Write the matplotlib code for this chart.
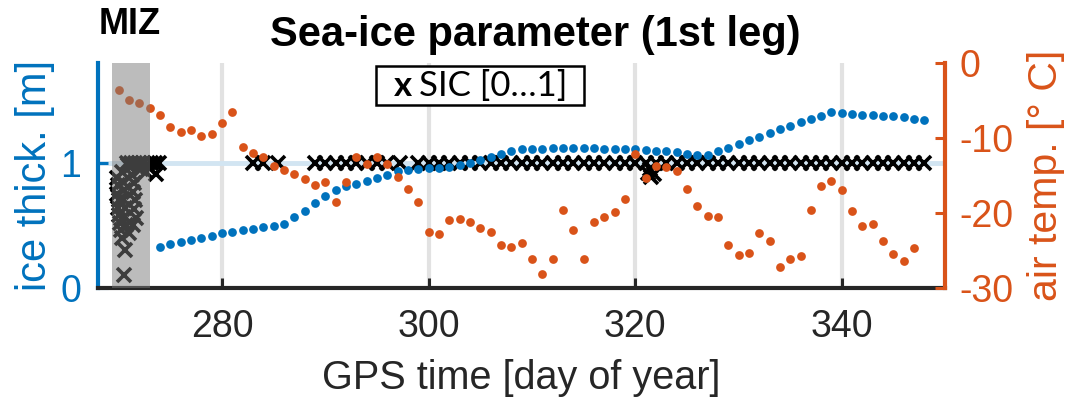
import numpy as np
import matplotlib
matplotlib.use('Agg')
import matplotlib.pyplot as plt
from matplotlib.patches import Rectangle

plt.rcParams['font.family'] = ['Liberation Sans', 'DejaVu Sans']
plt.rcParams['axes.unicode_minus'] = False

BLUE = '#0072BD'
ORANGE = '#D95319'
DARK = '#262626'

# ice thickness [m], one value per day
ice_days = list(range(274, 349))
ice_thick = [0.327, 0.351, 0.364, 0.383, 0.399, 0.418, 0.439, 0.450, 0.460, 0.471,
             0.488, 0.498, 0.514, 0.565, 0.618, 0.677, 0.733, 0.785, 0.814, 0.835,
             0.854, 0.881, 0.902, 0.932, 0.945, 0.952, 0.958, 0.963, 0.970, 0.982,
             0.996, 1.020, 1.045, 1.068, 1.095, 1.108, 1.111, 1.114, 1.116, 1.116,
             1.116, 1.119, 1.116, 1.114, 1.111, 1.108, 1.108, 1.103, 1.098, 1.092,
             1.084, 1.074, 1.066, 1.060, 1.095, 1.122, 1.151, 1.183, 1.210, 1.242,
             1.269, 1.296, 1.325, 1.355, 1.376, 1.406, 1.403, 1.392, 1.387, 1.384,
             1.379, 1.376, 1.365, 1.355, 1.341]

# air temperature [deg C], one value per day
temp_days = list(range(270, 348))
air_temp = [-3.6, -5.0, -5.4, -6.0, -7.0, -8.5, -9.2, -8.9, -9.8, -9.5,
            -8.0, -6.6, -11.2, -12.0, -12.6, -13.7, -14.3, -14.8, -15.5, -16.3,
            -15.9, -18.6, -15.9, -12.6, -13.5, -12.6, -13.5, -15.2, -16.8, -18.6,
            -22.6, -22.8, -20.9, -20.8, -21.2, -22.0, -22.6, -24.3, -24.5, -24.0,
            -26.1, -28.1, -26.1, -19.6, -22.3, -26.1, -21.2, -20.6, -19.9, -18.1,
            -12.2, -15.3, -13.7, -13.9, -14.4, -16.8, -19.1, -20.4, -20.6, -24.3,
            -25.6, -25.4, -22.7, -23.7, -27.2, -26.2, -25.8, -19.6, -16.4, -15.7,
            -17.0, -19.7, -21.8, -21.5, -23.7, -25.5, -26.4, -24.7]

# sea-ice concentration in the marginal ice zone (dense samples)
miz_days = [269.8, 269.9, 269.8, 270.0, 269.9, 270.0, 270.1, 270.2, 270.3, 270.6,
            270.5, 270.3, 270.4, 270.5, 270.4, 270.6, 270.5, 270.7, 271.1, 271.3,
            271.5, 271.4, 271.6, 271.5, 271.7, 271.4, 271.0, 270.8, 271.2, 271.6,
            272.0, 272.4, 272.8, 272.6, 273.1, 273.5, 273.6, 273.9, 272.2, 270.9]
miz_sic = [0.88, 0.82, 0.75, 0.70, 0.64, 0.58, 0.52, 0.46, 0.40, 0.30,
           0.10, 0.93, 0.85, 0.78, 0.71, 0.64, 0.57, 0.50, 0.97, 0.90,
           0.84, 0.77, 0.70, 0.63, 0.56, 0.50, 0.44, 1.00, 1.00, 1.00,
           1.00, 1.00, 0.97, 0.93, 1.00, 1.00, 0.91, 1.00, 0.95, 0.98]

# daily sea-ice concentration afterwards
sic_days = ([283, 284, 285.4] + list(range(289, 297)) + [297.2]
            + list(range(299, 349)))
sic_vals = [1.0] * len(sic_days)
dip_days = [321.2, 321.5, 321.8, 321.4]
dip_sic = [0.92, 0.89, 0.91, 0.95]

miz_span = (269.4, 273.0)

fig = plt.figure(figsize=(10.84, 4.01), dpi=100)
ax = fig.add_axes([0.0904, 0.282, 0.7815, 0.561])
ax2 = ax.twinx()

ax.set_axisbelow(True)
ax.set_xlim(268, 350)
ax.set_ylim(0, 1.8)
ax2.set_ylim(-30, 0)

ax.set_xticks([280, 300, 320, 340])
ax.set_yticks([0, 1])
ax2.set_yticks([0, -10, -20, -30])

ax.xaxis.grid(True, color='#e2e2e2', lw=3)
ax.yaxis.grid(True, color='#d2e5f2', lw=3.5)

mk = dict(ls='none', marker='x', color='k', ms=9.5, mew=2.6)
ax.plot(miz_days, miz_sic, **mk)
ax.plot(sic_days, sic_vals, **mk)
ax.plot(dip_days, dip_sic, **mk)
ax.plot(ice_days, ice_thick, 'o', color=BLUE, ms=6.3, mew=0)
ax2.plot(temp_days, air_temp, 'o', color=ORANGE, ms=6.3, mew=0)

ax2.axvspan(*miz_span, color='0.48', alpha=0.5, lw=0, zorder=5)

for s in ['top']:
    ax.spines[s].set_visible(False)
    ax2.spines[s].set_visible(False)
ax2.spines['left'].set_visible(False)
ax2.spines['bottom'].set_visible(False)
ax.spines['right'].set_visible(False)
ax.spines['left'].set_color(BLUE)
ax.spines['left'].set_linewidth(3)
ax.spines['bottom'].set_color(DARK)
ax.spines['bottom'].set_linewidth(3)
ax2.spines['right'].set_color(ORANGE)
ax2.spines['right'].set_linewidth(3)

ax.tick_params(axis='x', direction='in', length=7, width=2.2, color=DARK,
               labelcolor=DARK, labelsize=27, pad=15)
ax.tick_params(axis='y', direction='in', length=7, width=2.2, color=BLUE,
               labelcolor=BLUE, labelsize=27, pad=12)
ax2.tick_params(axis='y', direction='in', length=7, width=2.2, color=ORANGE,
                labelcolor=ORANGE, labelsize=27, pad=10)

ax.set_xlabel('GPS time [day of year]', fontsize=28.5, color=DARK, labelpad=10)
ax.set_ylabel('ice thick. [m]', fontsize=30, color=BLUE, labelpad=4)
ax2.set_ylabel('air temp. [° C]', fontsize=29.5, color=ORANGE, labelpad=10)

fig.text(535 / 1084, 1 - 35 / 401, 'Sea-ice parameter (1st leg)', ha='center',
         va='center', fontsize=30, fontweight='bold', color='k')
fig.text(99 / 1084, 1 - 25 / 401, 'MIZ', ha='left', va='center', fontsize=26,
         fontweight='bold', color='k')

# SIC legend box
fig.patches.append(Rectangle((376 / 1084, 1 - 105 / 401), 208 / 1084, 39 / 401,
                             transform=fig.transFigure, facecolor='white',
                             edgecolor='k', lw=1.8, zorder=10))
fig.text(394 / 1084, 1 - 86 / 401, 'x', ha='left', va='center', fontsize=25,
         fontweight='bold', family='Lato', zorder=11)
fig.text(419 / 1084, 1 - 86 / 401, 'SIC [0…1]', ha='left', va='center',
         fontsize=25, family='Lato', zorder=11)

fig.savefig('out.png', dpi=100)
